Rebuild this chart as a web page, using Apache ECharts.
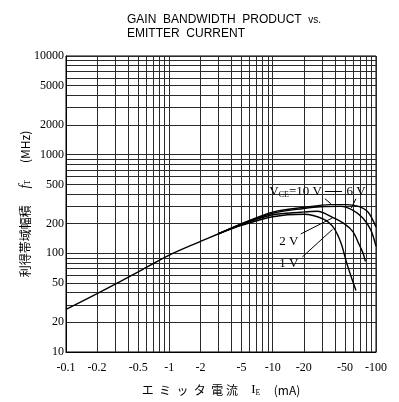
<!DOCTYPE html>
<html>
<head>
<meta charset="utf-8">
<script src="https://cdn.jsdelivr.net/npm/echarts@6/dist/echarts.min.js"></script>
<style>
html, body { margin: 0; padding: 0; background: #fff; }
#chart { width: 399px; height: 402px; }
</style>
</head>
<body>
<div id="chart"></div>
<script>
// emitter current is plotted by magnitude (mA), the axis prints it negative
var gridIe = [0.1, 0.2, 0.3, 0.4, 0.5, 0.6, 0.7, 0.8, 0.9, 1, 2, 3, 4, 5, 6, 7, 8, 9, 10, 20, 30, 40, 50, 60, 70, 80, 90, 100];
var gridFt = [10, 20, 30, 40, 50, 60, 70, 80, 90, 100, 200, 300, 400, 500, 600, 700, 800, 900, 1000, 2000, 3000, 4000, 5000, 6000, 7000, 8000, 9000, 10000];
var labelIe = [0.1, 0.2, 0.5, 1, 2, 5, 10, 20, 50, 100];
var labelFt = [10, 20, 50, 100, 200, 500, 1000, 2000, 5000, 10000];

// shared part of all curves
var commonIe = [0.1, 0.2, 0.5, 1, 2, 3];
var commonFt = [27, 39, 65, 96, 132, 158];

// branches per VCE
var ie10V = [3, 5, 10, 20, 36, 51, 68, 84, 100];
var ft10V = [158, 200, 262, 292, 312, 312, 299, 261, 185];
var ie6V = [3, 5, 10, 20, 29, 46, 60, 75, 89, 100];
var ft6V = [158, 198, 255, 285, 297, 299, 273, 227, 173, 118];
var ie2V = [3, 5, 10, 18.7, 27, 38, 50, 60, 68, 75, 79];
var ft2V = [158, 196, 246, 261, 267, 232, 198, 165, 126, 100, 83];
var ie1V = [3, 5, 10, 20, 31, 39, 46, 52, 58.5, 64];
var ft1V = [158, 192, 235, 249, 222, 181, 126, 80, 55, 42];

function pairs(xs, ys) {
    var res = [];
    for (var i = 0; i < xs.length; i++) {
        res.push([xs[i], ys[i]]);
    }
    return res;
}

function curve(name, xs, ys) {
    return {
        name: name,
        type: 'line',
        data: pairs(xs, ys),
        showSymbol: false,
        smooth: 0.3,
        lineStyle: { color: '#000', width: 1.4 },
        z: 3
    };
}

var serif = 'Liberation Serif';
var cjk = 'Noto Sans CJK JP';

function tag(coord, text, position) {
    return {
        coord: coord,
        symbol: 'circle',
        symbolSize: 1,
        itemStyle: { color: 'rgba(0,0,0,0)' },
        label: {
            show: true,
            position: position,
            distance: 1,
            formatter: text,
            color: '#000',
            fontFamily: serif,
            fontSize: 13,
            rich: {
                v: { fontFamily: serif, fontSize: 13, color: '#000' },
                s: { fontFamily: serif, fontSize: 8, color: '#000', verticalAlign: 'bottom', padding: [6, 0, 0, 0] }
            }
        }
    };
}

var chart = echarts.init(document.getElementById('chart'));

var series = [
    curve('common', commonIe, commonFt),
    curve('10V', ie10V, ft10V),
    curve('6V', ie6V, ft6V),
    curve('2V', ie2V, ft2V),
    curve('1V', ie1V, ft1V)
];

// leader lines and VCE labels
series[1].markLine = {
    silent: true,
    symbol: 'none',
    label: { show: false },
    lineStyle: { color: '#000', width: 1, type: 'solid' },
    data: [
        [{ coord: [32, 358] }, { coord: [36.6, 318] }],
        [{ coord: [64, 358] }, { coord: [57.7, 287] }],
        [{ coord: [32, 421] }, { coord: [46.8, 421] }],
        [{ coord: [18.7, 157] }, { coord: [38, 229] }],
        [{ coord: [19.4, 92] }, { coord: [38, 175] }]
    ]
};
series[1].markPoint = {
    silent: true,
    data: [
        tag([31, 421], '{v|V}{s|CE}{v|=10 V}', 'left'),
        tag([64, 421], '6 V', 'inside'),
        tag([14.3, 131], '2 V', 'inside'),
        tag([14.3, 78], '1 V', 'inside')
    ]
};

var option = {
    backgroundColor: '#fff',
    animation: false,
    title: {
        left: 122,
        top: 8,
        text: '{a|GAIN  BANDWIDTH  PRODUCT}  {b|vs.}\n{a|EMITTER  CURRENT}',
        textStyle: {
            fontWeight: 'normal',
            fontSize: 12,
            lineHeight: 14,
            rich: {
                a: { fontFamily: 'Liberation Sans', fontSize: 12, fontWeight: 'normal', color: '#000', lineHeight: 14 },
                b: { fontFamily: 'Liberation Sans', fontSize: 10, fontWeight: 'normal', color: '#000', lineHeight: 14 }
            }
        }
    },
    grid: {
        left: 66,
        right: 23,
        top: 56,
        bottom: 43,
        show: true,
        borderColor: '#000',
        borderWidth: 1
    },
    xAxis: {
        type: 'log',
        logBase: 10,
        min: 0.1,
        max: 100,
        axisLine: { lineStyle: { color: '#000' } },
        axisTick: { show: false, customValues: gridIe },
        splitLine: { show: true, lineStyle: { color: '#2a2a2a', width: 1 } },
        axisLabel: {
            customValues: labelIe,
            interval: 0,
            margin: 10,
            color: '#000',
            fontFamily: serif,
            fontSize: 12,
            formatter: function (v) { return '-' + v; }
        },
        name: '{j|エ  ミ  ッ  タ  電 流}    {i|I}{sub|E}    {j|(mA)}',
        nameLocation: 'middle',
        nameGap: 31,
        nameTextStyle: {
            rich: {
                j: { fontFamily: cjk, fontSize: 12, color: '#000' },
                i: { fontFamily: serif, fontSize: 13, color: '#000' },
                sub: { fontFamily: serif, fontSize: 8, color: '#000', verticalAlign: 'bottom', padding: [6, 0, 0, 0] }
            }
        }
    },
    yAxis: {
        type: 'log',
        logBase: 10,
        min: 10,
        max: 10000,
        axisLine: { lineStyle: { color: '#000' } },
        axisTick: { show: false, customValues: gridFt },
        splitLine: { show: true, lineStyle: { color: '#2a2a2a', width: 1 } },
        axisLabel: {
            customValues: labelFt,
            interval: 0,
            margin: 2,
            color: '#000',
            fontFamily: serif,
            fontSize: 12,
            formatter: function (v) { return String(v); }
        },
        name: '{j|利得帯域幅積}     {i|f}{sub|T}     {j|(MHz)}',
        nameLocation: 'middle',
        nameRotate: 90,
        nameGap: 34,
        nameMoveOverlap: false,
        nameTextStyle: {
            rich: {
                j: { fontFamily: cjk, fontSize: 12, color: '#000' },
                i: { fontFamily: serif, fontSize: 14, fontStyle: 'italic', color: '#000' },
                sub: { fontFamily: serif, fontSize: 8, color: '#000', verticalAlign: 'bottom', padding: [6, 0, 0, 0] }
            }
        }
    },
    series: series
};

chart.setOption(option);
</script>
</body>
</html>
